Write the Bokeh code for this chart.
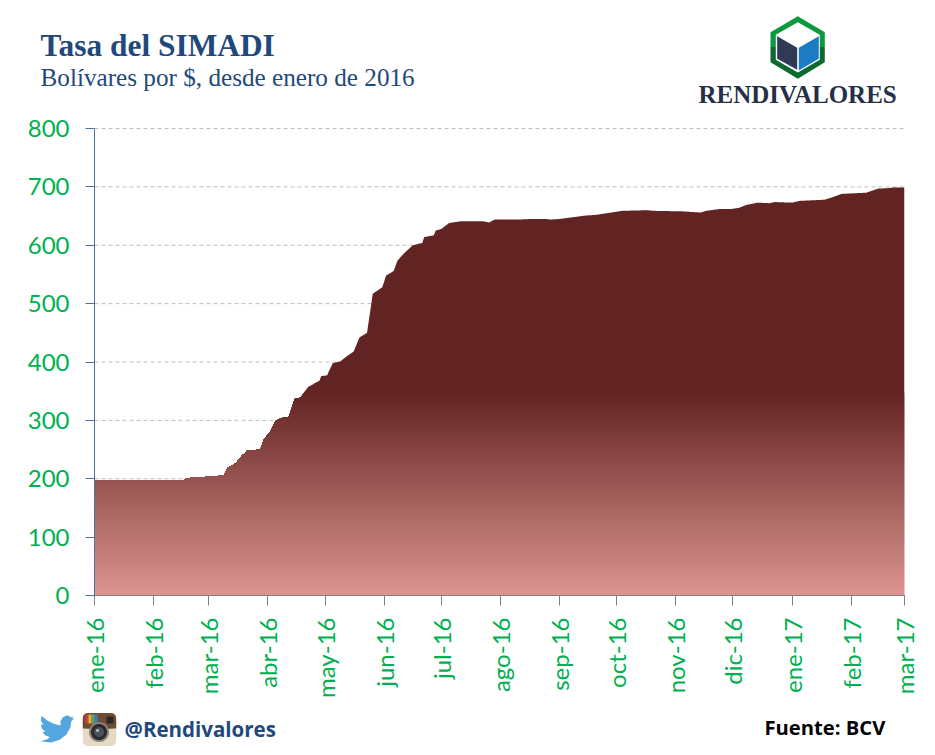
import numpy as np
from bokeh.embed import file_html
from bokeh.models import FixedTicker, Label, PolyAnnotation, Range1d
from bokeh.plotting import figure
from bokeh.resources import INLINE

# ---------- data ----------
DAYS = [0, 14, 47, 48, 62, 68, 70, 74, 77, 80, 87, 89, 92, 95, 98, 102, 105, 108, 112, 118,
        119, 122, 125, 129, 132, 136, 139, 143, 146, 151, 153, 157, 159, 163, 167, 172, 173,
        178, 179, 182, 186, 192, 204, 207, 210, 222, 229, 237, 239, 244, 251, 258, 263, 271,
        277, 290, 293, 309, 318, 321, 328, 334, 338, 342, 348, 354, 357, 366, 370, 383, 387,
        392, 405, 411, 417, 419, 425]
RATE = [198, 198, 198, 201, 204, 206, 219, 226, 238, 248, 250, 268, 280, 299, 304, 306, 337,
        339, 357, 368, 376, 377, 398, 401, 409, 418, 442, 450, 517, 528, 548, 556, 574, 588,
        600, 604, 614, 617, 625, 628, 638, 641, 641, 639, 644, 644, 645, 645, 644, 645, 648,
        651, 652, 656, 659, 660, 659, 658, 656, 659, 662, 662, 664, 669, 673, 672, 674, 673,
        676, 678, 682, 688, 690, 697, 698, 699, 699]
MONTH_DAYS = [0, 31, 60, 91, 121, 152, 182, 213, 244, 274, 305, 335, 366, 397, 425]
MONTH_LABELS = ["ene-16", "feb-16", "mar-16", "abr-16", "may-16", "jun-16", "jul-16", "ago-16",
                "sep-16", "oct-16", "nov-16", "dic-16", "ene-17", "feb-17", "mar-17"]
Y_TICKS = [0, 100, 200, 300, 400, 500, 600, 700, 800]
TITLE = "Tasa del SIMADI"
SUBTITLE = "Bolívares por $, desde enero de 2016"
BRAND = "RENDIVALORES"
HANDLE = "@Rendivalores"
SOURCE = "Fuente: BCV"

# ---------- style ----------
W, H = 935, 755
PLOT_L, PLOT_R, PLOT_T, PLOT_B = 94, 904, 128, 595
GREEN = "#00B050"
NAVY = "#1F497D"
DARK = np.array([0x62, 0x24, 0x22])
LIGHT = np.array([0xDD, 0x95, 0x91])
GRAD_TOP = 350

# the frame fills the canvas, so that the page furniture around the plot is not clipped;
# the ranges are widened so that the chart proper lands on the measured plot rectangle
sx = (PLOT_R - PLOT_L) / MONTH_DAYS[-1]
sy = (PLOT_B - PLOT_T) / Y_TICKS[-1]
p = figure(width=W, height=H, output_backend="svg", toolbar_location=None,
           min_border=0, min_border_left=0, min_border_right=0, min_border_top=0, min_border_bottom=0,
           x_range=Range1d(-PLOT_L / sx, (W - PLOT_L) / sx),
           y_range=Range1d(-(H - PLOT_B) / sy, PLOT_B / sy),
           background_fill_color="white", border_fill_color="white")
p.outline_line_color = None

# ---------- axes ----------
p.grid.visible = False
p.segment(x0=[0] * len(Y_TICKS), x1=[MONTH_DAYS[-1]] * len(Y_TICKS), y0=Y_TICKS, y1=Y_TICKS,
          line_color="#BDBDBD", line_dash="4 3", line_width=1, level="underlay")

xa = p.xaxis[0]
xa.fixed_location = 0
xa.bounds = (0, MONTH_DAYS[-1])
xa.ticker = FixedTicker(ticks=MONTH_DAYS)
xa.major_label_overrides = {d: s for d, s in zip(MONTH_DAYS, MONTH_LABELS)}
xa.major_label_orientation = np.pi / 2
xa.major_label_text_font = "Lato"
xa.major_label_text_font_size = "24px"
xa.major_label_text_color = GREEN
xa.major_label_standoff = 12
xa.major_tick_in = 0
xa.major_tick_out = 10
xa.minor_tick_line_color = None
xa.major_tick_line_color = "#7F7F7F"
xa.axis_line_color = "#7F7F7F"

ya = p.yaxis[0]
ya.fixed_location = 0
ya.bounds = (0, Y_TICKS[-1])
ya.ticker = FixedTicker(ticks=Y_TICKS)
ya.major_label_text_font = "Lato"
ya.major_label_text_font_size = "24px"
ya.major_label_text_color = GREEN
ya.major_label_standoff = 16
ya.major_tick_in = 0
ya.major_tick_out = 9
ya.minor_tick_line_color = None
ya.major_tick_line_color = "#4F6F9F"
ya.axis_line_color = "#4F6F9F"

# ---------- gradient area: nested layers, top (dark) to bottom (light) ----------
grid_x = np.union1d(np.arange(0, MONTH_DAYS[-1] + 0.25, 0.25), DAYS)
grid_y = np.interp(grid_x, DAYS, RATE)
p.varea(x=grid_x, y1=0, y2=grid_y, fill_color="#%02x%02x%02x" % tuple(DARK), fill_alpha=1)
tops = np.arange(GRAD_TOP, 0, -3)
for t in tops:
    f = 1 - (t / GRAD_TOP)
    c = DARK + (LIGHT - DARK) * f
    col = "#%02x%02x%02x" % tuple(int(round(v)) for v in c)
    p.varea(x=grid_x, y1=0, y2=np.minimum(grid_y, t), fill_color=col, fill_alpha=1)


# ---------- page furniture (page coordinates) ----------
def poly(points, color):
    p.add_layout(PolyAnnotation(xs=[a for a, _ in points], ys=[b for _, b in points],
                                xs_units="canvas", ys_units="canvas",
                                fill_color=color, fill_alpha=1, line_color=None))


def label(x, mid_y, text, font, size, color, style="normal", align="left"):
    p.add_layout(Label(x=x, y=mid_y, x_units="canvas", y_units="canvas", text=text,
                       text_font=font, text_font_size=size, text_color=color,
                       text_font_style=style, text_align=align, text_baseline="alphabetic"))


def circle(cx, cy, r, n=36):
    a = np.linspace(0, 2 * np.pi, n, endpoint=False)
    return list(zip(cx + r * np.cos(a), cy + r * np.sin(a)))


def rrect(x0, y0, x1, y1, r, n=6):
    pts = []
    for cx, cy, a0 in [(x1 - r, y0 + r, -90), (x1 - r, y1 - r, 0), (x0 + r, y1 - r, 90), (x0 + r, y0 + r, 180)]:
        for a in np.radians(np.linspace(a0, a0 + 90, n)):
            pts.append((cx + r * np.cos(a), cy + r * np.sin(a)))
    return pts


# trims the antialiased fringe of the stacked gradient layers at the right edge
poly([(904, 180), (907, 180), (907, 594.5), (904, 594.5)], "#FFFFFF")

label(40, 45, TITLE, "Liberation Serif", "31.4px", NAVY, "bold")
label(40, 77, SUBTITLE, "Liberation Serif", "25.2px", NAVY)
label(698, 94, BRAND, "Liberation Serif", "25px", "#252F45", "bold")
label(124, 728, HANDLE, "Open Sans", "20.5px", NAVY, "bold")
label(764, 726, SOURCE, "Open Sans", "20.2px", "#000000", "bold")

# logo
poly([(770, 46.5), (770, 31.7), (797.3, 15.7), (824.3, 31.7), (824.3, 46.5)], "#0C9A3E")
poly([(770, 46.5), (824.3, 46.5), (824.3, 61.7), (797.3, 78.3), (770, 61.7)], "#0B6A2E")
poly([(797.3, 21.7), (819.3, 34.3), (819.3, 59.3), (797.3, 72), (775.3, 59.3), (775.3, 34.3)], "#FFFFFF")
poly([(776.7, 35.7), (796.7, 47.3), (796.7, 69.3), (776.7, 58.3)], "#2F3B55")
poly([(798.3, 47.3), (818.3, 35.7), (818.3, 58.3), (798.3, 70)], "#1B7CC4")

# twitter bird
BIRD = [(131, 47), (122, 55), (131, 53), (122, 63), (120, 80), (108, 102), (88, 118), (62, 126),
        (30, 122), (50, 116), (58, 110), (44, 104), (36, 95), (44, 93), (34, 84), (31, 72),
        (39, 74), (31, 60), (33, 46), (50, 60), (70, 70), (90, 75), (90, 62), (97, 50), (110, 44),
        (122, 50)]
poly([(30 + a / 3, 700 + b / 3) for a, b in BIRD], "#55A5DE")

# instagram icon
poly(rrect(82.3, 712.5, 115.7, 745.5, 5), "#E4DAC6")
poly(rrect(82.3, 712.5, 115.7, 728, 5), "#6F4B36")
poly([(82.3, 728), (115.7, 728), (115.7, 722), (82.3, 722)], "#6F4B36")
for x0, col in zip([85, 88, 91, 94], ["#C9433E", "#E6B13E", "#5FA55A", "#3F7FB5"]):
    poly([(x0, 714), (x0 + 3, 714), (x0 + 3, 723), (x0, 723)], col)
poly(rrect(106, 716, 113, 723, 1), "#2B2725")
poly(circle(98.5, 731.5, 10), "#8C8378")
poly(circle(98.5, 731.5, 8), "#2B2A2C")
poly(circle(98.5, 731.5, 5), "#4A5058")
poly(circle(97, 730, 1.6), "#A9B2BC")

open("out.html", "w").write(file_html(p, INLINE))
